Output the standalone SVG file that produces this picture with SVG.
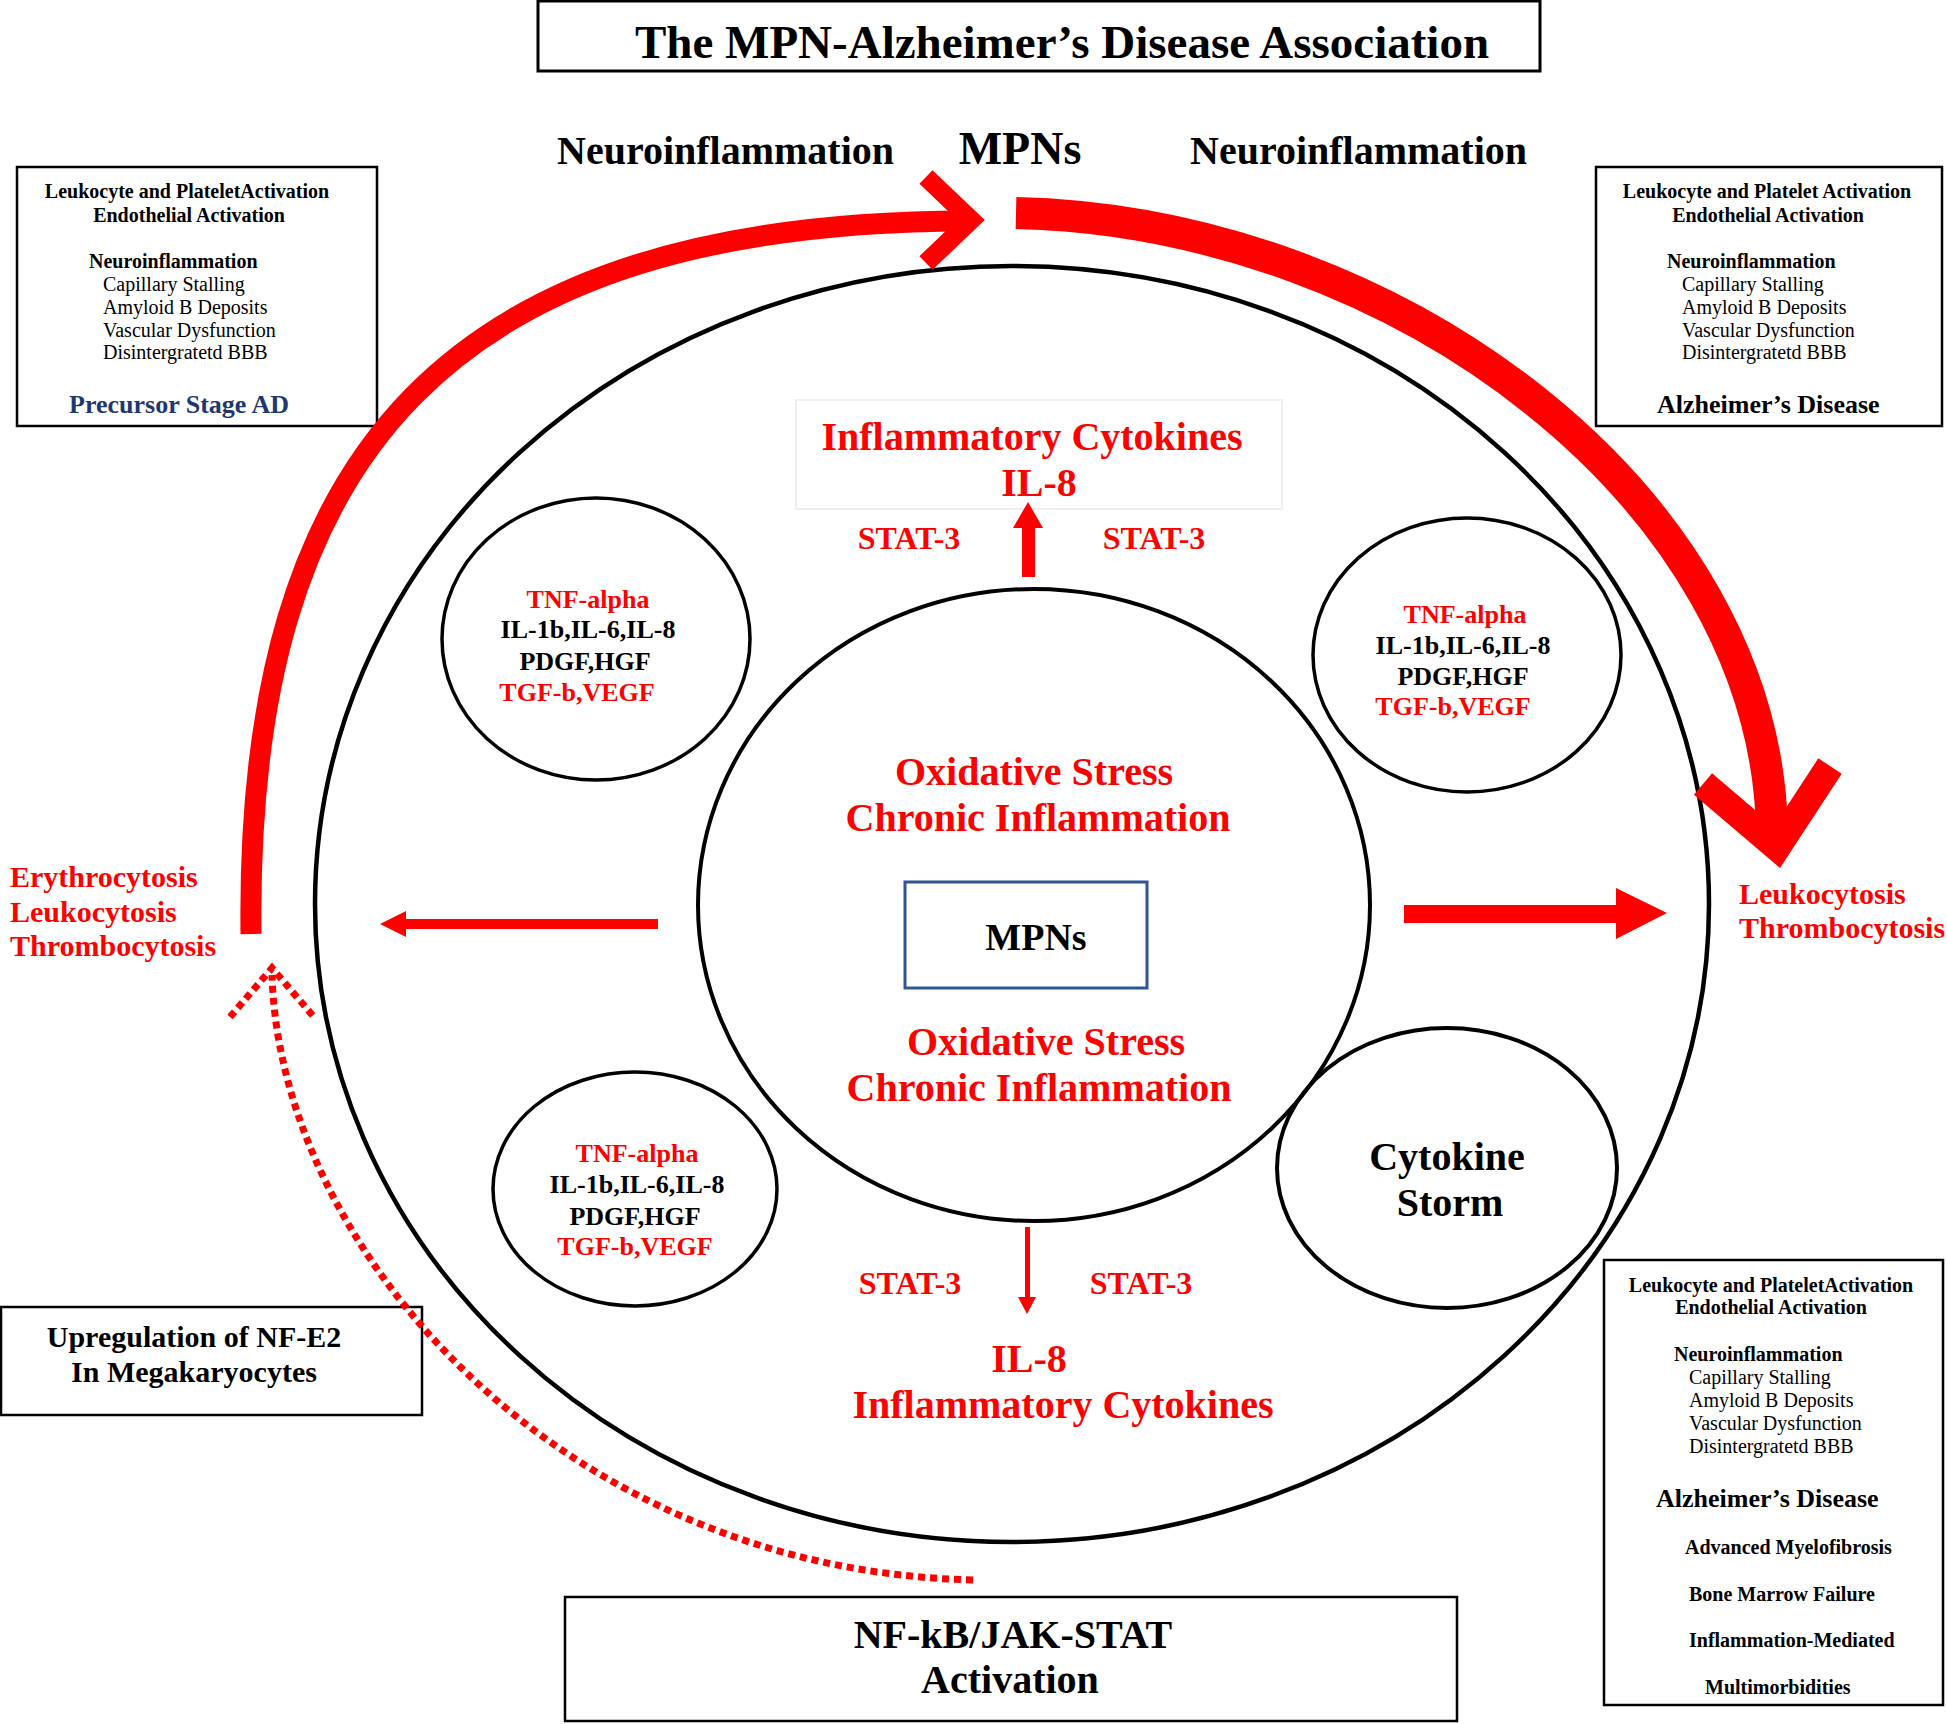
<svg xmlns="http://www.w3.org/2000/svg" width="1947" height="1724" viewBox="0 0 1947 1724">
<style>
text{font-family:"Liberation Serif","Times New Roman",serif;font-weight:bold;fill:#000}
.r{fill:#FF0000}
.n{font-weight:normal}
.m{text-anchor:middle}
.bx{fill:#fff;stroke:#000;stroke-width:2.5}
.el{fill:none;stroke:#000}
.s20{font-size:20px}
.s26{font-size:26px}
.s30{font-size:30px}
.s32{font-size:32px}
.s40{font-size:40px}
</style>
<rect width="1947" height="1724" fill="#fff"/>

<g id="outer-ring"><ellipse class="el" cx="1012" cy="904" rx="697" ry="638" stroke-width="4.5"/></g>

<g id="title">
<rect x="538" y="1" width="1002" height="70" fill="#fff" stroke="#000" stroke-width="3"/>
<text class="m" x="1062" y="58" font-size="47">The MPN-Alzheimer’s Disease Association</text>
</g>

<g id="top-labels">
<text x="557" y="164" font-size="40">Neuroinflammation</text>
<text class="m" x="1020" y="164" font-size="46">MPNs</text>
<text x="1190" y="164" font-size="40">Neuroinflammation</text>
</g>

<g id="box-precursor">
<rect class="bx" x="17" y="167" width="360" height="259"/>
<text class="m s20" x="187" y="198">Leukocyte and PlateletActivation</text>
<text class="m s20" x="189" y="222">Endothelial Activation</text>
<text class="s20" x="89" y="268">Neuroinflammation</text>
<text class="s20 n" x="103" y="291">Capillary Stalling</text>
<text class="s20 n" x="103" y="314">Amyloid B Deposits</text>
<text class="s20 n" x="103" y="337">Vascular Dysfunction</text>
<text class="s20 n" x="103" y="359">Disintergratetd BBB</text>
<text class="s26" x="69" y="413" style="fill:#1F3871">Precursor Stage AD</text>
</g>

<g id="box-ad-top">
<rect class="bx" x="1596" y="167" width="346" height="259"/>
<text class="m s20" x="1767" y="198">Leukocyte and Platelet Activation</text>
<text class="m s20" x="1768" y="222">Endothelial Activation</text>
<text class="s20" x="1667" y="268">Neuroinflammation</text>
<text class="s20 n" x="1682" y="291">Capillary Stalling</text>
<text class="s20 n" x="1682" y="314">Amyloid B Deposits</text>
<text class="s20 n" x="1682" y="337">Vascular Dysfunction</text>
<text class="s20 n" x="1682" y="359">Disintergratetd BBB</text>
<text class="s26" x="1657" y="413">Alzheimer’s Disease</text>
</g>

<g id="box-ad-bottom">
<rect class="bx" x="1604" y="1260" width="339" height="445"/>
<text class="m s20" x="1771" y="1292">Leukocyte and PlateletActivation</text>
<text class="m s20" x="1771" y="1314">Endothelial Activation</text>
<text class="s20" x="1674" y="1361">Neuroinflammation</text>
<text class="s20 n" x="1689" y="1384">Capillary Stalling</text>
<text class="s20 n" x="1689" y="1407">Amyloid B Deposits</text>
<text class="s20 n" x="1689" y="1430">Vascular Dysfunction</text>
<text class="s20 n" x="1689" y="1453">Disintergratetd BBB</text>
<text class="s26" x="1656" y="1507">Alzheimer’s Disease</text>
<text class="s20" x="1685" y="1554">Advanced Myelofibrosis</text>
<text class="s20" x="1689" y="1601">Bone Marrow Failure</text>
<text class="s20" x="1689" y="1647">Inflammation-Mediated</text>
<text class="s20" x="1705" y="1694">Multimorbidities</text>
</g>

<g id="box-nfe2">
<rect class="bx" x="1" y="1307" width="421" height="108"/>
<text class="m s30" x="194" y="1347">Upregulation of NF-E2</text>
<text class="m s30" x="194" y="1382">In Megakaryocytes</text>
</g>

<g id="box-nfkb">
<rect class="bx" x="565" y="1597" width="892" height="124"/>
<text class="m s40" x="1013" y="1648">NF-kB/JAK-STAT</text>
<text class="m s40" x="1010" y="1693">Activation</text>
</g>

<g id="left-labels">
<text class="r s30" x="10" y="887">Erythrocytosis</text>
<text class="r s30" x="10" y="922">Leukocytosis</text>
<text class="r s30" x="10" y="956">Thrombocytosis</text>
</g>

<g id="right-labels">
<text class="r s30" x="1739" y="904">Leukocytosis</text>
<text class="r s30" x="1739" y="938">Thrombocytosis</text>
</g>

<g id="center">
<ellipse class="el" cx="1034" cy="905" rx="336" ry="316" stroke-width="4"/>
<text class="m r s40" x="1034" y="785">Oxidative Stress</text>
<text class="m r s40" x="1038" y="831">Chronic Inflammation</text>
<text class="m r s40" x="1046" y="1055">Oxidative Stress</text>
<text class="m r s40" x="1039" y="1101">Chronic Inflammation</text>
</g>

<g id="mpns-box">
<rect x="905" y="882" width="242" height="106" fill="#fff" stroke="#2E5597" stroke-width="3"/>
<text class="m" x="1036" y="950" font-size="38">MPNs</text>
</g>

<g id="cytokines-top">
<rect x="796" y="400" width="486" height="109" fill="none" stroke="#EFEFEF" stroke-width="2"/>
<text class="m r s40" x="1032" y="450">Inflammatory Cytokines</text>
<text class="m r s40" x="1039" y="496">IL-8</text>
<text class="m r s32" x="909" y="549">STAT-3</text>
<text class="m r s32" x="1154" y="549">STAT-3</text>
</g>

<g id="cytokines-bottom">
<text class="m r s32" x="910" y="1294">STAT-3</text>
<text class="m r s32" x="1141" y="1294">STAT-3</text>
<text class="m r s40" x="1029" y="1372">IL-8</text>
<text class="m r s40" x="1063" y="1418">Inflammatory Cytokines</text>
</g>

<g id="circle-tl">
<ellipse class="el" cx="596" cy="639" rx="154" ry="141" stroke-width="3.5"/>
<text class="m r s26" x="588" y="608">TNF-alpha</text>
<text class="m s26" x="588" y="638">IL-1b,IL-6,IL-8</text>
<text class="m s26" x="585" y="670">PDGF,HGF</text>
<text class="m r s26" x="577" y="701">TGF-b,VEGF</text>
</g>

<g id="circle-tr">
<ellipse class="el" cx="1467" cy="655" rx="154" ry="137" stroke-width="3.5"/>
<text class="m r s26" x="1465" y="623">TNF-alpha</text>
<text class="m s26" x="1463" y="654">IL-1b,IL-6,IL-8</text>
<text class="m s26" x="1463" y="685">PDGF,HGF</text>
<text class="m r s26" x="1453" y="715">TGF-b,VEGF</text>
</g>

<g id="circle-bl">
<ellipse class="el" cx="635" cy="1189" rx="142" ry="117" stroke-width="3.5"/>
<text class="m r s26" x="637" y="1162">TNF-alpha</text>
<text class="m s26" x="637" y="1193">IL-1b,IL-6,IL-8</text>
<text class="m s26" x="635" y="1225">PDGF,HGF</text>
<text class="m r s26" x="635" y="1255">TGF-b,VEGF</text>
</g>

<g id="cytokine-storm">
<ellipse class="el" cx="1447" cy="1168" rx="170" ry="140" stroke-width="4"/>
<text class="m s40" x="1447" y="1170">Cytokine</text>
<text class="m s40" x="1450" y="1216">Storm</text>
</g>

<g id="connectors" fill="none" stroke="#FF0000">
<path d="M 251 934 C 245 450 450 222 968 221" stroke-width="21"/>
<polyline points="926,177 971,220 926,263" stroke-width="19" stroke-linejoin="miter"/>
<path d="M 1016 213 C 1400 222 1765 500 1772 830" stroke-width="32"/>
<polyline points="1703,784 1777,847 1830,766" stroke-width="28" stroke-linejoin="miter"/>
<path d="M 973 1580 C 560 1570 280 1250 272 975" stroke-width="7" stroke-dasharray="7 5"/>
<polyline points="230,1017 272,968 314,1017" stroke-width="7" stroke-dasharray="7 5"/>
<g fill="#FF0000" stroke="none">
<polygon points="658,919 406,919 406,911 380,924 406,937 406,929 658,929"/>
<polygon points="1404,905 1616,905 1616,888 1667,913 1616,939 1616,923 1404,923"/>
<polygon points="1022,577 1022,528 1013,528 1028,502 1043,528 1035,528 1035,577"/>
<polygon points="1025,1227 1025,1297 1018,1297 1027,1314 1036,1297 1030,1297 1030,1227"/>
</g>
</g>
</svg>
